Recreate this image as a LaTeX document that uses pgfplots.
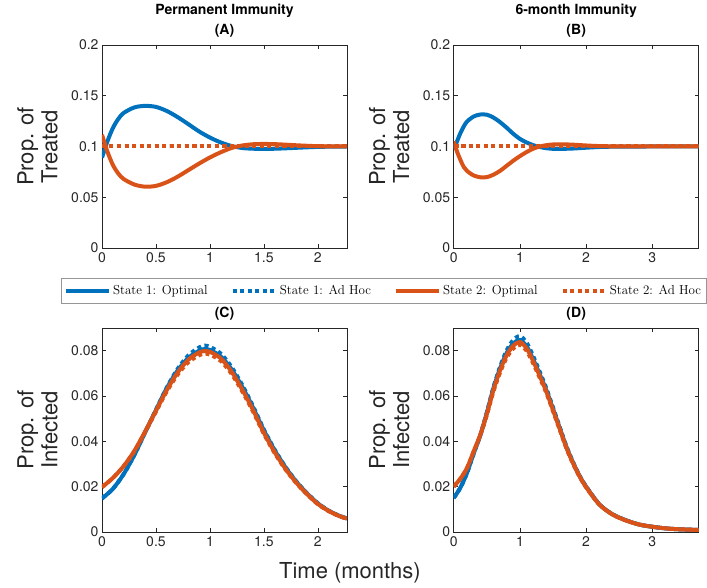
\documentclass[border=0pt]{standalone}
\usepackage{fontspec}
\setsansfont{TeX Gyre Heros}
\usepackage{pgfplots}
\pgfplotsset{compat=1.18}
\usepackage{pgfplotstable}
\definecolor{mblue}{RGB}{0,114,189}
\definecolor{morange}{RGB}{217,83,25}
\definecolor{axgray}{RGB}{38,38,38}
\definecolor{leggray}{RGB}{150,150,150}

\pgfplotstableread{
t b o
0 0.0890 0.1115
0.05 0.1050 0.0950
0.1 0.1180 0.0820
0.15 0.1270 0.0735
0.2 0.1330 0.0680
0.3 0.1385 0.0625
0.4 0.1400 0.0604
0.5 0.1390 0.0612
0.6 0.1350 0.0648
0.7 0.1290 0.0702
0.8 0.1220 0.0767
0.9 0.1148 0.0832
1.0 0.1088 0.0892
1.1 0.1040 0.0943
1.2 0.1005 0.0985
1.3 0.0985 0.1010
1.4 0.0978 0.1022
1.5 0.0976 0.1025
1.6 0.0978 0.1023
1.7 0.0982 0.1018
1.8 0.0987 0.1012
1.9 0.0992 0.1007
2.0 0.0996 0.1003
2.1 0.0998 0.1001
2.27 0.1000 0.1000
}\TreatA

\pgfplotstableread{
t b o
0 0.0970 0.1050
0.05 0.1050 0.0950
0.1 0.1130 0.0870
0.15 0.1195 0.0800
0.2 0.1245 0.0760
0.3 0.1295 0.0715
0.4 0.1315 0.0697
0.5 0.1313 0.0698
0.6 0.1285 0.0722
0.7 0.1240 0.0760
0.8 0.1185 0.0810
0.9 0.1125 0.0860
1.0 0.1075 0.0905
1.1 0.1040 0.0945
1.2 0.1013 0.0978
1.3 0.0995 0.1000
1.4 0.0983 0.1013
1.5 0.0977 0.1020
1.6 0.0976 0.1022
1.8 0.0980 0.1018
2.0 0.0988 0.1010
2.2 0.0995 0.1004
2.5 0.0999 0.1001
3.0 0.1000 0.1000
3.7 0.1000 0.1000
}\TreatB

\pgfplotstableread{
t b ba o oa
0 0.0148 0.0148 0.0198 0.0198
0.1 0.0190 0.0190 0.0238 0.0238
0.2 0.0255 0.0255 0.0290 0.0290
0.3 0.0340 0.0340 0.0358 0.0356
0.4 0.0440 0.0440 0.0444 0.0441
0.5 0.0538 0.0539 0.0535 0.0531
0.6 0.0634 0.0637 0.0626 0.0620
0.7 0.0712 0.0719 0.0703 0.0694
0.8 0.0768 0.0779 0.0760 0.0749
0.9 0.0800 0.0814 0.0792 0.0780
0.95 0.0807 0.0822 0.0798 0.0786
1.0 0.0803 0.0817 0.0795 0.0783
1.1 0.0775 0.0787 0.0766 0.0755
1.2 0.0718 0.0728 0.0708 0.0698
1.3 0.0640 0.0648 0.0628 0.0620
1.4 0.0548 0.0554 0.0538 0.0531
1.5 0.0448 0.0452 0.0438 0.0433
1.6 0.0360 0.0363 0.0352 0.0348
1.7 0.0285 0.0287 0.0279 0.0276
1.8 0.0222 0.0223 0.0218 0.0216
1.9 0.0170 0.0171 0.0167 0.0166
2.0 0.0126 0.0127 0.0124 0.0123
2.1 0.0094 0.0094 0.0093 0.0092
2.2 0.0071 0.0071 0.0070 0.0070
2.27 0.0060 0.0060 0.0059 0.0059
}\InfC

\pgfplotstableread{
t b ba o oa
0 0.0150 0.0150 0.0200 0.0200
0.1 0.0195 0.0195 0.0235 0.0235
0.2 0.0260 0.0260 0.0282 0.0281
0.3 0.0345 0.0345 0.0355 0.0353
0.4 0.0425 0.0426 0.0428 0.0425
0.5 0.0525 0.0527 0.0520 0.0516
0.6 0.0634 0.0638 0.0627 0.0620
0.7 0.0722 0.0729 0.0713 0.0704
0.8 0.0790 0.0801 0.0780 0.0769
0.9 0.0832 0.0847 0.0822 0.0810
1.0 0.0847 0.0864 0.0838 0.0826
1.1 0.0820 0.0836 0.0811 0.0800
1.2 0.0762 0.0776 0.0754 0.0744
1.3 0.0695 0.0706 0.0688 0.0680
1.4 0.0625 0.0633 0.0619 0.0613
1.5 0.0543 0.0549 0.0538 0.0533
1.6 0.0460 0.0464 0.0456 0.0452
1.7 0.0377 0.0380 0.0374 0.0371
1.8 0.0308 0.0310 0.0305 0.0303
1.9 0.0248 0.0249 0.0246 0.0245
2.0 0.0200 0.0201 0.0198 0.0197
2.2 0.0122 0.0122 0.0121 0.0121
2.4 0.0078 0.0078 0.0077 0.0077
2.6 0.0052 0.0052 0.0051 0.0051
2.8 0.0033 0.0033 0.0033 0.0033
3.0 0.0023 0.0023 0.0023 0.0023
3.2 0.0016 0.0016 0.0016 0.0016
3.4 0.0012 0.0012 0.0012 0.0012
3.7 0.0009 0.0009 0.0009 0.0009
}\InfD

\pgfplotsset{
  panel/.style={
    scale only axis, width=245pt, height=203pt, anchor=south west,
    axis line style={axgray, line width=0.5pt},
    tick style={axgray, line width=0.5pt},
    tick align=inside, xtick pos=both, ytick pos=both,
    major tick length=4pt, enlargelimits=false,
    scaled x ticks=false, scaled y ticks=false,
    /pgf/number format/assume math mode=true,
    ticklabel style={font=\sffamily\fontsize{14}{14}\selectfont, text=axgray},
    xticklabel style={yshift=-1pt},
    ylabel style={font=\sffamily\fontsize{22}{24}\selectfont, align=center,
      at={(axis description cs:-0.263,0.5)}, anchor=center, text=axgray},
    title style={font=\sffamily\bfseries\fontsize{14}{20}\selectfont, align=center, yshift=-2pt},
  },
  sopt/.style={line width=4pt, line join=round, smooth},
  sad/.style={line width=4pt, dash pattern=on 4pt off 3.5pt, smooth},
}

\begin{document}
\begin{tikzpicture}
\useasboundingbox (0pt,0pt) rectangle (707pt,588pt);

% (A)
\begin{axis}[panel, at={(102pt,340pt)},
  xmin=0, xmax=2.27, ymin=0, ymax=0.2,
  xtick={0,0.5,1,1.5,2}, xticklabels={0,0.5,1,1.5,2},
  ytick={0,0.05,0.1,0.15,0.2}, yticklabels={0,0.05,0.1,0.15,0.2},
  ylabel={Prop. of\\Treated},
  title={Permanent Immunity\\(A)},
  legend columns=4,
  legend image code/.code={\draw[#1] (0pt,0pt) -- (43pt,0pt);},
  legend style={at={(1.149,-0.2094)}, anchor=center, draw=leggray, line width=0.6pt,
    font=\rmfamily\fontsize{13}{13}\selectfont, inner xsep=3pt, inner ysep=5pt,
    /tikz/every even column/.append style={column sep=21pt},
    cells={anchor=west}},
]
\addplot[sopt, mblue] table[x=t,y=b] {\TreatA};
\addlegendentry{State 1: Optimal}
\addplot[sad, mblue] coordinates {(0,0.1) (1,0.1) (2.27,0.1)};
\addlegendentry{State 1: Ad Hoc}
\addplot[sopt, morange] table[x=t,y=o] {\TreatA};
\addlegendentry{State 2: Optimal}
\addplot[sad, morange] coordinates {(0,0.1) (1,0.1) (2.27,0.1)};
\addlegendentry{State 2: Ad Hoc}
\end{axis}

% (B)
\begin{axis}[panel, at={(453.7pt,340pt)},
  xmin=0, xmax=3.7, ymin=0, ymax=0.2,
  xtick={0,1,2,3}, xticklabels={0,1,2,3},
  ytick={0,0.05,0.1,0.15,0.2}, yticklabels={0,0.05,0.1,0.15,0.2},
  ylabel={Prop. of\\Treated},
  title={6-month Immunity\\(B)},
]
\addplot[sopt, mblue] table[x=t,y=b] {\TreatB};
\addplot[sad, mblue] coordinates {(0,0.1) (1.85,0.1) (3.7,0.1)};
\addplot[sopt, morange] table[x=t,y=o] {\TreatB};
\addplot[sad, morange] coordinates {(0,0.1) (1.85,0.1) (3.7,0.1)};
\end{axis}

% (C)
\begin{axis}[panel, at={(102pt,56pt)}, height=204pt,
  xmin=0, xmax=2.27, ymin=0, ymax=0.09,
  xtick={0,0.5,1,1.5,2}, xticklabels={0,0.5,1,1.5,2},
  ytick={0,0.02,0.04,0.06,0.08}, yticklabels={0,0.02,0.04,0.06,0.08},
  ylabel={Prop. of\\Infected},
  title={(C)},
  xlabel={Time (months)},
  xlabel style={font=\sffamily\fontsize{22}{24}\selectfont, text=axgray,
    at={(axis description cs:1.012,-0.2)}, anchor=center},
]
\addplot[sopt, mblue] table[x=t,y=b] {\InfC};
\addplot[sad, mblue] table[x=t,y=ba] {\InfC};
\addplot[sopt, morange] table[x=t,y=o] {\InfC};
\addplot[sad, morange] table[x=t,y=oa] {\InfC};
\end{axis}

% (D)
\begin{axis}[panel, at={(453.7pt,56pt)}, height=204pt,
  xmin=0, xmax=3.7, ymin=0, ymax=0.09,
  xtick={0,1,2,3}, xticklabels={0,1,2,3},
  ytick={0,0.02,0.04,0.06,0.08}, yticklabels={0,0.02,0.04,0.06,0.08},
  ylabel={Prop. of\\Infected},
  title={(D)},
]
\addplot[sopt, mblue] table[x=t,y=b] {\InfD};
\addplot[sad, mblue] table[x=t,y=ba] {\InfD};
\addplot[sopt, morange] table[x=t,y=o] {\InfD};
\addplot[sad, morange] table[x=t,y=oa] {\InfD};
\end{axis}
\end{tikzpicture}
\end{document}
